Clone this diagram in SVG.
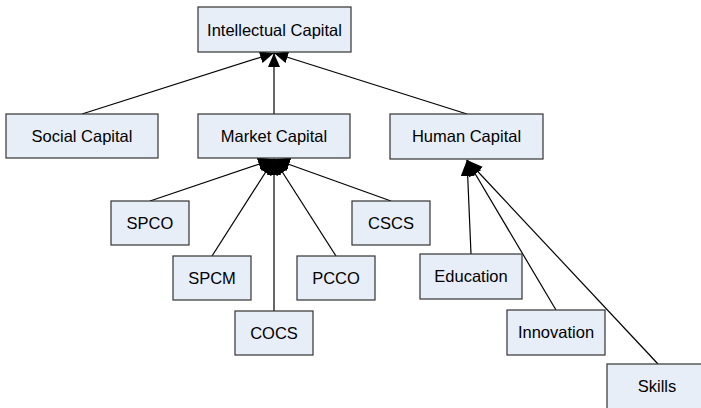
<svg xmlns="http://www.w3.org/2000/svg" width="701" height="408" viewBox="0 0 701 408">
  <style>
    .box { fill: #E8EEF8; stroke: #333333; stroke-width: 1.2; }
    .lbl { font-family: "Liberation Sans", Arial, sans-serif; font-size: 16.5px; fill: #000000; text-anchor: middle; }
    .link { stroke: #000000; stroke-width: 1.2; fill: none; marker-end: url(#arrow); }
    .link.lg { marker-end: url(#arrow-lg); }
  </style>
  <defs>
    <marker id="arrow" viewBox="0 0 14 12" refX="14" refY="6" markerWidth="14" markerHeight="12" markerUnits="userSpaceOnUse" orient="auto">
      <path d="M0,0 L14,6 L0,12 Z" fill="#000000"/>
    </marker>
    <marker id="arrow-lg" viewBox="0 0 16 14" refX="16" refY="7" markerWidth="16" markerHeight="14" markerUnits="userSpaceOnUse" orient="auto">
      <path d="M0,0 L16,7 L0,14 Z" fill="#000000"/>
    </marker>
  </defs>
  <rect width="701" height="408" fill="#FFFFFF"/>

  <!-- connectors -->
  <g id="connectors">
    <line class="link" x1="82" y1="114" x2="274" y2="53"/>
    <line class="link" x1="274" y1="114" x2="274" y2="53"/>
    <line class="link" x1="467" y1="114" x2="274" y2="53"/>

    <line class="link lg" x1="150" y1="201" x2="274" y2="159"/>
    <line class="link lg" x1="212" y1="256" x2="274" y2="159"/>
    <line class="link lg" x1="274" y1="311" x2="274" y2="159"/>
    <line class="link lg" x1="336" y1="256" x2="274" y2="159"/>
    <line class="link lg" x1="391" y1="201" x2="274" y2="159"/>

    <line class="link lg" x1="471" y1="254" x2="467" y2="160"/>
    <line class="link lg" x1="556" y1="310" x2="467" y2="160"/>
    <line class="link lg" x1="658" y1="364" x2="467" y2="160"/>
  </g>

  <g id="intellectual-capital">
    <rect class="box" x="198" y="7" width="153" height="45"/>
    <text class="lbl" x="274.5" y="35.5">Intellectual Capital</text>
  </g>
  <g id="social-capital">
    <rect class="box" x="6" y="114" width="152" height="44"/>
    <text class="lbl" x="82" y="142">Social Capital</text>
  </g>
  <g id="market-capital">
    <rect class="box" x="198" y="114" width="152" height="44"/>
    <text class="lbl" x="274" y="142">Market Capital</text>
  </g>
  <g id="human-capital">
    <rect class="box" x="390" y="114" width="153" height="45"/>
    <text class="lbl" x="466.5" y="142">Human Capital</text>
  </g>

  <g id="spco">
    <rect class="box" x="111" y="201" width="78" height="44"/>
    <text class="lbl" x="150" y="229">SPCO</text>
  </g>
  <g id="cscs">
    <rect class="box" x="352" y="201" width="78" height="44"/>
    <text class="lbl" x="391" y="229">CSCS</text>
  </g>
  <g id="spcm">
    <rect class="box" x="173" y="256" width="78" height="44"/>
    <text class="lbl" x="212" y="284">SPCM</text>
  </g>
  <g id="pcco">
    <rect class="box" x="297" y="256" width="78" height="44"/>
    <text class="lbl" x="336" y="284">PCCO</text>
  </g>
  <g id="cocs">
    <rect class="box" x="235" y="311" width="78" height="44"/>
    <text class="lbl" x="274" y="339">COCS</text>
  </g>

  <g id="education">
    <rect class="box" x="420" y="254" width="102" height="45"/>
    <text class="lbl" x="471" y="282">Education</text>
  </g>
  <g id="innovation">
    <rect class="box" x="507" y="310" width="98" height="45"/>
    <text class="lbl" x="556" y="338">Innovation</text>
  </g>
  <g id="skills">
    <rect class="box" x="607" y="364" width="100" height="46"/>
    <text class="lbl" x="657" y="392">Skills</text>
  </g>
</svg>
